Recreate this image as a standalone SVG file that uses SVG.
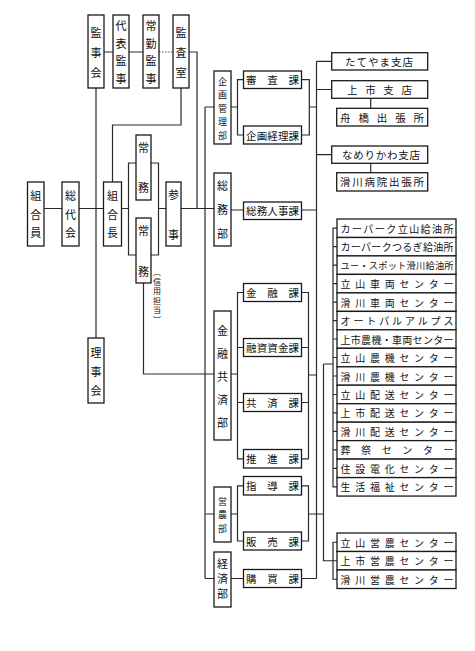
<svg xmlns="http://www.w3.org/2000/svg" width="475" height="651" viewBox="0 0 475 651">
<style>
.box{fill:#fff;stroke:#1a1a1a;stroke-width:1.3}
.ln{fill:none;stroke:#2a2a2a;stroke-width:1.2}
.dot{fill:none;stroke:#555;stroke-width:1.2;stroke-dasharray:1.5 1.5}
.t{font-family:"Noto Sans CJK JP","Noto Sans CJK SC",sans-serif;font-size:11px;fill:#111}
.v{text-anchor:middle;dominant-baseline:central}
.h{dominant-baseline:central;font-size:10.5px}
.l{dominant-baseline:central;font-size:10px}
</style>
<rect width="475" height="651" fill="#fff"/>
<g id="connectors">
<path class="ln" d="M44 208.5H62M79 208.5H103.5M96 88V338M104 52H113M129 52H143M189 52H197V208.5M181 88V125H112.5V182M121.5 208.5H128.5M128.5 163H158.5V255H128.5ZM158.5 208.5H166M181 208.5H214M143.5 283V374H214"/>
<path class="dot" d="M159 52H173"/>
<path class="ln" d="M205 107V578.5M205 107H214M205 514H214M205 578.5H214"/>
<path class="ln" d="M231 107H237.5M243.5 79.7H237.5V135H243.5M301.5 79.7H309.3V135H301.5M309.3 107H316.5M231 210H243.5M301.5 210H316.5"/>
<path class="ln" d="M243.5 292.5H237.5V458.8H243.5M237.5 347.5H243.5M237.5 402.5H243.5M231 374H237.5M301.5 292.5H308.5V458.8H301.5M301.5 347.5H308.5M301.5 402.5H308.5M308.5 375H316.5"/>
<path class="ln" d="M243.5 485.8H237.5V541H243.5M231 514H237.5M301.5 485.8H308.5V541H301.5M308.5 514H323.5M231 578.5H243.5M301.5 578.5H316.5"/>
<path class="ln" d="M316.5 61.3V578.5M316.5 61.3H331.7M316.5 89.5H331.7M316.5 154.7H331.7M370.7 98.3V108.3M370.7 163.3V172.7"/>
<path class="ln" d="M337 228.2H333V486.8H337M333 246.7H337M333 265.2H337M333 283.6H337M333 302.1H337M333 320.6H337M333 339H337M333 357.5H337M333 376H337M333 394.5H337M333 412.9H337M333 431.4H337M333 449.9H337M333 468.3H337"/>
<path class="ln" d="M323.5 364H333M323.5 364V560.75H337M337 542.25H333V579.25H337"/>
</g>
<g id="kanjikai"><rect class="box" x="88" y="15" width="16" height="73"/><text class="t v"><tspan x="96" y="32">監</tspan><tspan x="96" y="52">事</tspan><tspan x="96" y="72">会</tspan></text></g>
<g id="daihyo-kanji"><rect class="box" x="113" y="15" width="16" height="73"/><text class="t v"><tspan x="121" y="25">代</tspan><tspan x="121" y="42.5">表</tspan><tspan x="121" y="60">監</tspan><tspan x="121" y="77.5">事</tspan></text></g>
<g id="jokin-kanji"><rect class="box" x="143" y="15" width="16" height="73"/><text class="t v"><tspan x="151" y="25">常</tspan><tspan x="151" y="42.5">勤</tspan><tspan x="151" y="60">監</tspan><tspan x="151" y="77.5">事</tspan></text></g>
<g id="kansashitsu"><rect class="box" x="173" y="15" width="16" height="73"/><text class="t v"><tspan x="181" y="32">監</tspan><tspan x="181" y="52">査</tspan><tspan x="181" y="72">室</tspan></text></g>
<g id="kumiaiin"><rect class="box" x="27.5" y="182" width="16.5" height="64"/><text class="t v"><tspan x="35.7" y="195">組</tspan><tspan x="35.7" y="213.5">合</tspan><tspan x="35.7" y="232">員</tspan></text></g>
<g id="sodaikai"><rect class="box" x="62" y="182" width="17" height="64"/><text class="t v"><tspan x="70.5" y="195">総</tspan><tspan x="70.5" y="213.5">代</tspan><tspan x="70.5" y="232">会</tspan></text></g>
<g id="kumiaicho"><rect class="box" x="103.5" y="182" width="18" height="64"/><text class="t v"><tspan x="112.5" y="195">組</tspan><tspan x="112.5" y="213.5">合</tspan><tspan x="112.5" y="232">長</tspan></text></g>
<g id="rijikai"><rect class="box" x="88" y="338" width="16" height="65"/><text class="t v"><tspan x="96" y="352">理</tspan><tspan x="96" y="371">事</tspan><tspan x="96" y="390">会</tspan></text></g>
<g id="jomu1"><rect class="box" x="136" y="135" width="15" height="65"/><text class="t v"><tspan x="143.5" y="147">常</tspan><tspan x="143.5" y="187">務</tspan></text></g>
<g id="jomu2"><rect class="box" x="136" y="218" width="15" height="65"/><text class="t v"><tspan x="143.5" y="230">常</tspan><tspan x="143.5" y="271">務</tspan></text><text class="t v" style="font-size:8px"><tspan x="157" y="271">︵</tspan><tspan x="157" y="280.6">信</tspan><tspan x="157" y="290.2">用</tspan><tspan x="157" y="299.8">担</tspan><tspan x="157" y="309.4">当</tspan><tspan x="157" y="319">︶</tspan></text></g>
<g id="sanji"><rect class="box" x="166" y="182" width="15" height="64"/><text class="t v"><tspan x="173.5" y="193.5">参</tspan><tspan x="173.5" y="233.5">事</tspan></text></g>
<g id="kikaku-kanribu"><rect class="box" x="214" y="71" width="17" height="73"/><text class="t v" style="font-size:9px"><tspan x="222.5" y="80.5">企</tspan><tspan x="222.5" y="94">画</tspan><tspan x="222.5" y="107.5">管</tspan><tspan x="222.5" y="121">理</tspan><tspan x="222.5" y="134.5">部</tspan></text></g>
<g id="somubu"><rect class="box" x="214" y="173" width="17" height="73"/><text class="t v"><tspan x="222.5" y="185">総</tspan><tspan x="222.5" y="209">務</tspan><tspan x="222.5" y="233">部</tspan></text></g>
<g id="kinyu-kyosaibu"><rect class="box" x="214" y="311" width="17" height="129"/><text class="t v"><tspan x="222.5" y="330">金</tspan><tspan x="222.5" y="353">融</tspan><tspan x="222.5" y="375.5">共</tspan><tspan x="222.5" y="399">済</tspan><tspan x="222.5" y="422">部</tspan></text></g>
<g id="einobu"><rect class="box" x="214" y="487" width="17" height="55"/><text class="t v" style="font-size:9px"><tspan x="222.5" y="500.5">営</tspan><tspan x="222.5" y="514">農</tspan><tspan x="222.5" y="527.5">部</tspan></text></g>
<g id="keizaibu"><rect class="box" x="214" y="552" width="17" height="55"/><text class="t v"><tspan x="222.5" y="563">経</tspan><tspan x="222.5" y="578">済</tspan><tspan x="222.5" y="593">部</tspan></text></g>
<g id="shinsaka"><rect class="box" x="243.5" y="71" width="58" height="17.5"/><text class="t h" x="246" y="79.7" textLength="53" lengthAdjust="spacing">審査課</text></g>
<g id="kikaku-keirika"><rect class="box" x="243.5" y="126" width="58" height="18"/><text class="t h" x="246" y="135" textLength="53" lengthAdjust="spacing">企画経理課</text></g>
<g id="somu-jinjika"><rect class="box" x="243.5" y="202" width="58" height="17.5"/><text class="t h" x="246" y="210.8" textLength="53" lengthAdjust="spacing">総務人事課</text></g>
<g id="kinyuka"><rect class="box" x="243.5" y="283.5" width="58" height="18"/><text class="t h" x="246" y="292.5" textLength="53" lengthAdjust="spacing">金融課</text></g>
<g id="yushi-shikinka"><rect class="box" x="243.5" y="338.5" width="58" height="18"/><text class="t h" x="246" y="347.5" textLength="53" lengthAdjust="spacing">融資資金課</text></g>
<g id="kyosaika"><rect class="box" x="243.5" y="393.5" width="58" height="18"/><text class="t h" x="246" y="402.5" textLength="53" lengthAdjust="spacing">共済課</text></g>
<g id="suishinka"><rect class="box" x="243.5" y="449.5" width="58" height="18.5"/><text class="t h" x="246" y="458.8" textLength="53" lengthAdjust="spacing">推進課</text></g>
<g id="shidoka"><rect class="box" x="243.5" y="476.5" width="58" height="18.5"/><text class="t h" x="246" y="485.8" textLength="53" lengthAdjust="spacing">指導課</text></g>
<g id="hanbaika"><rect class="box" x="243.5" y="532" width="58" height="18"/><text class="t h" x="246" y="541" textLength="53" lengthAdjust="spacing">販売課</text></g>
<g id="kobaika"><rect class="box" x="243.5" y="569.5" width="58" height="18"/><text class="t h" x="246" y="578.5" textLength="53" lengthAdjust="spacing">購買課</text></g>
<g id="tateyama-shiten"><rect class="box" x="331.7" y="52.7" width="96" height="17.3"/><text class="t h" x="345" y="61.3" textLength="68" lengthAdjust="spacing">たてやま支店</text></g>
<g id="kamiichi-shiten"><rect class="box" x="331.7" y="80.7" width="96" height="17.6"/><text class="t h" x="347" y="89.5" textLength="65" lengthAdjust="spacing">上市支店</text></g>
<g id="funahashi"><rect class="box" x="336.7" y="108.3" width="91" height="17.7"/><text class="t h" x="340" y="117.2" textLength="84" lengthAdjust="spacing">舟橋出張所</text></g>
<g id="namerikawa-shiten"><rect class="box" x="331.7" y="146" width="96" height="17.3"/><text class="t h" x="342" y="154.7" textLength="78" lengthAdjust="spacing">なめりかわ支店</text></g>
<g id="namerikawa-byoin"><rect class="box" x="336.7" y="172.7" width="91" height="18.3"/><text class="t h" x="340" y="181.9" textLength="84" lengthAdjust="spacing">滑川病院出張所</text></g>
<g id="l01"><rect class="box" x="337" y="219" width="119" height="18.47"/><text class="t l" x="340.5" y="228.2" textLength="113" lengthAdjust="spacing">カーパーク立山給油所</text></g>
<g id="l02"><rect class="box" x="337" y="237.5" width="119" height="18.47"/><text class="t l" x="340.5" y="246.7" textLength="113" lengthAdjust="spacing">カーパークつるぎ給油所</text></g>
<g id="l03"><rect class="box" x="337" y="255.9" width="119" height="18.47"/><text class="t l" x="340.5" y="265.2" textLength="113" lengthAdjust="spacing" style="font-size:9.2px">ユー・スポット滑川給油所</text></g>
<g id="l04"><rect class="box" x="337" y="274.4" width="119" height="18.47"/><text class="t l" x="340.5" y="283.6" textLength="113" lengthAdjust="spacing">立山車両センター</text></g>
<g id="l05"><rect class="box" x="337" y="292.9" width="119" height="18.47"/><text class="t l" x="340.5" y="302.1" textLength="113" lengthAdjust="spacing">滑川車両センター</text></g>
<g id="l06"><rect class="box" x="337" y="311.4" width="119" height="18.47"/><text class="t l" x="340.5" y="320.6" textLength="113" lengthAdjust="spacing">オートパルアルプス</text></g>
<g id="l07"><rect class="box" x="337" y="329.8" width="119" height="18.47"/><text class="t l" x="340.5" y="339" textLength="113" lengthAdjust="spacing">上市農機・車両センター</text></g>
<g id="l08"><rect class="box" x="337" y="348.3" width="119" height="18.47"/><text class="t l" x="340.5" y="357.5" textLength="113" lengthAdjust="spacing">立山農機センター</text></g>
<g id="l09"><rect class="box" x="337" y="366.8" width="119" height="18.47"/><text class="t l" x="340.5" y="376" textLength="113" lengthAdjust="spacing">滑川農機センター</text></g>
<g id="l10"><rect class="box" x="337" y="385.2" width="119" height="18.47"/><text class="t l" x="340.5" y="394.5" textLength="113" lengthAdjust="spacing">立山配送センター</text></g>
<g id="l11"><rect class="box" x="337" y="403.7" width="119" height="18.47"/><text class="t l" x="340.5" y="412.9" textLength="113" lengthAdjust="spacing">上市配送センター</text></g>
<g id="l12"><rect class="box" x="337" y="422.2" width="119" height="18.47"/><text class="t l" x="340.5" y="431.4" textLength="113" lengthAdjust="spacing">滑川配送センター</text></g>
<g id="l13"><rect class="box" x="337" y="440.6" width="119" height="18.47"/><text class="t l" x="340.5" y="449.9" textLength="113" lengthAdjust="spacing">葬祭センター</text></g>
<g id="l14"><rect class="box" x="337" y="459.1" width="119" height="18.47"/><text class="t l" x="340.5" y="468.3" textLength="113" lengthAdjust="spacing">住設電化センター</text></g>
<g id="l15"><rect class="box" x="337" y="477.6" width="119" height="18.47"/><text class="t l" x="340.5" y="486.8" textLength="113" lengthAdjust="spacing">生活福祉センター</text></g>
<g id="e1"><rect class="box" x="337" y="533" width="119" height="18.5"/><text class="t l" x="340.5" y="542.25" textLength="113" lengthAdjust="spacing">立山営農センター</text></g>
<g id="e2"><rect class="box" x="337" y="551.5" width="119" height="18.5"/><text class="t l" x="340.5" y="560.75" textLength="113" lengthAdjust="spacing">上市営農センター</text></g>
<g id="e3"><rect class="box" x="337" y="570" width="119" height="18.5"/><text class="t l" x="340.5" y="579.25" textLength="113" lengthAdjust="spacing">滑川営農センター</text></g>
</svg>
